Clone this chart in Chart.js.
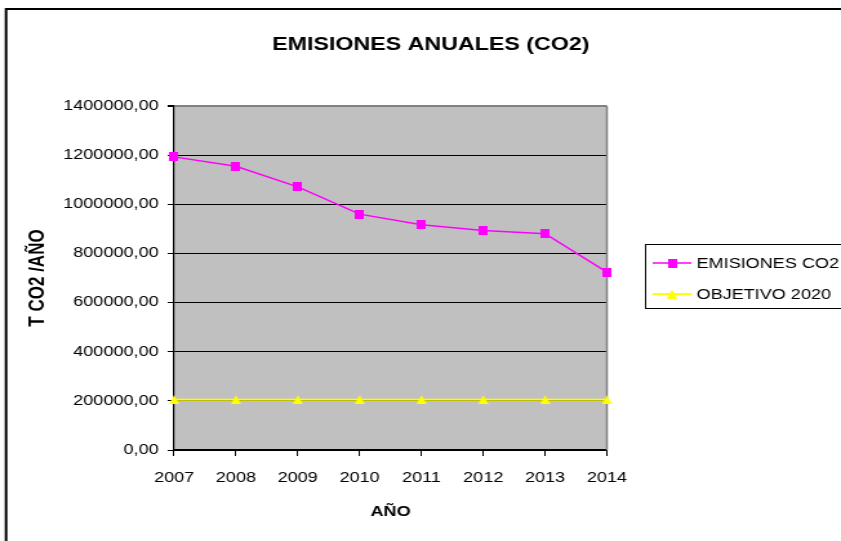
<!DOCTYPE html>
<html>
<head>
<meta charset="utf-8">
<script src="https://cdn.jsdelivr.net/npm/chart.js@4"></script>
<style>
  html, body { margin: 0; padding: 0; background: #fff; overflow: hidden; }
  #myChart { display: block; width: 841px; height: 541px; }
</style>
</head>
<body>
<canvas id="myChart" width="652" height="541" style="width:841px;height:541px"></canvas>
<script>
// chart is drawn narrow and stretched by css, like the original picture
const years = ["2007", "2008", "2009", "2010", "2011", "2012", "2013", "2014"];
const emisiones = [1193000, 1155000, 1071000, 960000, 917000, 893000, 880000, 724000];
const objetivo = [205000, 205000, 205000, 205000, 205000, 205000, 205000, 205000];
const yTicks = [0, 200000, 400000, 600000, 800000, 1000000, 1200000, 1400000];
const chartTitle = 'EMISIONES ANUALES (CO2)';

const FONT = "'Liberation Sans', Arial, sans-serif";

function marker(kind, color) {
  const c = document.createElement('canvas');
  if (kind == 'square') { c.width = 7; c.height = 9; }
  else { c.width = 8; c.height = 9; }
  const g = c.getContext('2d');
  g.fillStyle = color;
  if (kind == 'square') {
    g.fillRect(0, 0, 7, 9);
  } else {
    g.beginPath();
    g.moveTo(4, 0); g.lineTo(8, 9); g.lineTo(0, 9);
    g.closePath();
    g.fill();
  }
  return c;
}
const sq = marker('square', '#FF00FF');
const tri = marker('tri', '#FFFF00');

const excelLook = {
  id: 'excelLook',
  beforeDraw(chart) {
    const c = chart.ctx, a = chart.chartArea;
    c.save();
    c.fillStyle = '#fff';
    c.fillRect(0, 0, chart.width, chart.height);
    c.fillStyle = '#C0C0C0';
    c.fillRect(a.left, a.top, a.right - a.left, a.bottom - a.top);
    // outer frame
    c.strokeStyle = '#000';
    c.lineWidth = 2;
    c.beginPath();
    c.moveTo(4.7, 541); c.lineTo(4.7, 9); c.lineTo(700, 9);
    c.stroke();
    // title
    c.fillStyle = '#000';
    c.font = 'bold 18px ' + FONT;
    c.textAlign = 'center';
    c.textBaseline = 'middle';
    c.fillText(chartTitle, 334, 45);
    c.restore();
  },
  beforeDatasetsDraw(chart) {
    const c = chart.ctx, a = chart.chartArea;
    c.save();
    c.strokeStyle = '#808080';
    c.lineWidth = 1.5;
    c.beginPath();
    c.moveTo(a.right, a.top); c.lineTo(a.right, a.bottom);
    c.stroke();
    c.restore();
  },
  afterDraw(chart) {
    const c = chart.ctx;
    c.save();
    c.strokeStyle = '#000';
    c.lineWidth = 1;
    c.strokeRect(500.5, 244.5, 300, 64);
    const rows = [263, 294];
    chart.data.datasets.forEach((ds, i) => {
      const y = rows[i];
      c.strokeStyle = ds.borderColor;
      c.lineWidth = ds.borderWidth;
      c.beginPath();
      c.moveTo(506, y); c.lineTo(536, y);
      c.stroke();
      const img = ds.pointStyle;
      c.drawImage(img, 521 - img.width / 2, y - img.height / 2);
      c.fillStyle = '#000';
      c.font = '14px ' + FONT;
      c.textBaseline = 'middle';
      c.fillText(ds.label, 540, y + 1);
    });
    c.restore();
  }
};

new Chart(document.getElementById('myChart'), {
  type: 'line',
  data: {
    labels: years,
    datasets: [{
      label: 'EMISIONES CO2',
      data: emisiones,
      borderColor: '#FF00FF',
      borderWidth: 1.5,
      pointStyle: sq,
      tension: 0
    }, {
      label: 'OBJETIVO 2020',
      data: objetivo,
      borderColor: '#FFFF00',
      borderWidth: 2,
      pointStyle: tri,
      tension: 0
    }]
  },
  options: {
    responsive: false,
    animation: false,
    devicePixelRatio: 1,
    layout: {
      autoPadding: false,
      padding: { left: 4, right: 181.5, top: 106, bottom: 20.6 }
    },
    plugins: {
      legend: { display: false },
      tooltip: { enabled: false },
      title: { display: false }
    },
    scales: {
      x: {
        offset: false,
        grid: { drawOnChartArea: false, drawTicks: true, tickLength: 6, color: '#000' },
        border: { color: '#000', width: 1.5 },
        ticks: { color: '#000', padding: 14, maxRotation: 0, font: { family: FONT, size: 14 } },
        title: {
          display: true, text: 'AÑO', color: '#000',
          font: { family: FONT, size: 14, weight: 'bold' },
          padding: { top: 2.8, bottom: 0 }
        }
      },
      y: {
        min: 0,
        max: 1400000,
        afterBuildTicks(scale) {
          scale.ticks = yTicks.map(v => ({ value: v }));
        },
        grid: {
          color: ctx => (ctx.tick && ctx.tick.value === 1400000) ? '#808080' : '#000',
          lineWidth: ctx => (ctx.tick && ctx.tick.value === 1400000) ? 2 : 1,
          tickColor: '#000',
          tickLength: 5
        },
        border: { color: '#000', width: 1.2 },
        ticks: {
          color: '#000',
          padding: 7,
          font: { family: FONT, size: 14 },
          callback: v => v.toFixed(2).replace('.', ',')
        },
        title: {
          display: true, text: 'T CO2 /AÑO', color: '#000',
          font: { family: FONT, size: 17, weight: 'bold' },
          padding: { top: 15, bottom: 2.6 }
        }
      }
    }
  },
  plugins: [excelLook]
});
</script>
</body>
</html>
